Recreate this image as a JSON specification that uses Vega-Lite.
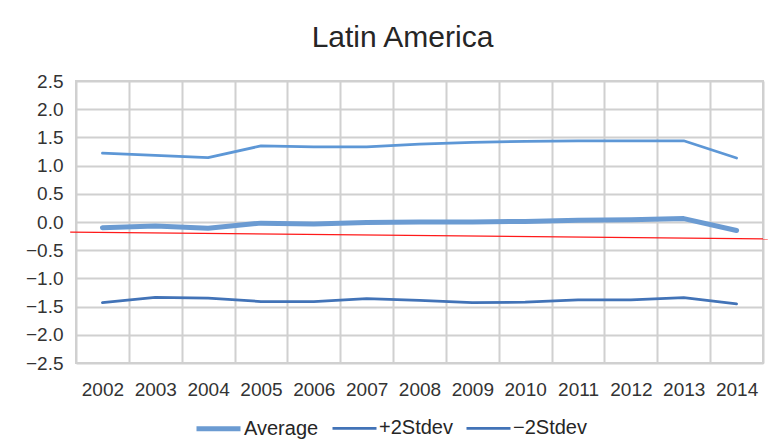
{
  "$schema": "https://vega.github.io/schema/vega-lite/v6.json",
  "width": 687,
  "height": 282,
  "autosize": {"type": "none"},
  "padding": {"left": 76, "top": 81, "right": 5, "bottom": 85},
  "background": "white",
  "config": {
    "font": "Liberation Sans",
    "view": {"stroke": "#d0d0d0", "strokeWidth": 2},
    "axisY": {
      "title": null,
      "grid": true,
      "gridColor": "#d0d0d0",
      "gridWidth": 2,
      "ticks": false,
      "domain": false,
      "labelFontSize": 19,
      "labelColor": "#333333",
      "labelPadding": 13,
      "labelOverlap": false,
      "labelFlush": false
    }
  },
  "title": {
    "text": "Latin America",
    "fontSize": 30,
    "fontWeight": "normal",
    "color": "#262626",
    "font": "Liberation Sans",
    "anchor": "middle",
    "dx": -17,
    "offset": 19
  },
  "datasets": {
    "series": [
      {"year": "2002", "series": "Average", "value": -0.10},
      {"year": "2003", "series": "Average", "value": -0.07},
      {"year": "2004", "series": "Average", "value": -0.11},
      {"year": "2005", "series": "Average", "value": -0.02},
      {"year": "2006", "series": "Average", "value": -0.035},
      {"year": "2007", "series": "Average", "value": -0.01},
      {"year": "2008", "series": "Average", "value": 0.0},
      {"year": "2009", "series": "Average", "value": 0.0},
      {"year": "2010", "series": "Average", "value": 0.01},
      {"year": "2011", "series": "Average", "value": 0.03},
      {"year": "2012", "series": "Average", "value": 0.04},
      {"year": "2013", "series": "Average", "value": 0.06},
      {"year": "2014", "series": "Average", "value": -0.15},
      {"year": "2002", "series": "+2Stdev", "value": 1.22},
      {"year": "2003", "series": "+2Stdev", "value": 1.18},
      {"year": "2004", "series": "+2Stdev", "value": 1.14},
      {"year": "2005", "series": "+2Stdev", "value": 1.35},
      {"year": "2006", "series": "+2Stdev", "value": 1.33},
      {"year": "2007", "series": "+2Stdev", "value": 1.33},
      {"year": "2008", "series": "+2Stdev", "value": 1.38},
      {"year": "2009", "series": "+2Stdev", "value": 1.41},
      {"year": "2010", "series": "+2Stdev", "value": 1.43},
      {"year": "2011", "series": "+2Stdev", "value": 1.44},
      {"year": "2012", "series": "+2Stdev", "value": 1.44},
      {"year": "2013", "series": "+2Stdev", "value": 1.44},
      {"year": "2014", "series": "+2Stdev", "value": 1.135},
      {"year": "2002", "series": "−2Stdev", "value": -1.43},
      {"year": "2003", "series": "−2Stdev", "value": -1.335},
      {"year": "2004", "series": "−2Stdev", "value": -1.35},
      {"year": "2005", "series": "−2Stdev", "value": -1.41},
      {"year": "2006", "series": "−2Stdev", "value": -1.41},
      {"year": "2007", "series": "−2Stdev", "value": -1.36},
      {"year": "2008", "series": "−2Stdev", "value": -1.39},
      {"year": "2009", "series": "−2Stdev", "value": -1.43},
      {"year": "2010", "series": "−2Stdev", "value": -1.42},
      {"year": "2011", "series": "−2Stdev", "value": -1.38},
      {"year": "2012", "series": "−2Stdev", "value": -1.38},
      {"year": "2013", "series": "−2Stdev", "value": -1.34},
      {"year": "2014", "series": "−2Stdev", "value": -1.45}
    ],
    "trend": [
      {"t": -0.11, "v": -0.18},
      {"t": 13.09, "v": -0.30}
    ]
  },
  "layer": [
    {
      "data": {"name": "series"},
      "mark": {"type": "line", "strokeCap": "round", "strokeJoin": "round"},
      "encoding": {
        "x": {
          "field": "year",
          "type": "ordinal",
          "scale": {"paddingInner": 0, "paddingOuter": 0},
          "axis": {
            "title": null,
            "labelAngle": 0,
            "tickBand": "extent",
            "grid": true,
            "gridColor": "#d0d0d0",
            "gridWidth": 2,
            "ticks": false,
            "domain": false,
            "labelFontSize": 19,
            "labelColor": "#333333",
            "labelPadding": 17,
            "labelOverlap": false
          }
        },
        "y": {
          "field": "value",
          "type": "quantitative",
          "scale": {"domain": [-2.5, 2.5], "nice": false, "zero": false},
          "axis": {
            "values": [-2.5, -2, -1.5, -1, -0.5, 0, 0.5, 1, 1.5, 2, 2.5],
            "format": ".1f",
            "labelOverlap": false
          }
        },
        "color": {
          "condition": {"test": "datum.series === '+2Stdev'", "value": "#5d97d6"},
          "field": "series",
          "type": "nominal",
          "sort": ["Average", "+2Stdev", "−2Stdev"],
          "scale": {"domain": ["Average", "+2Stdev", "−2Stdev"], "range": ["#6b9bd2", "#4273b7", "#4273b7"]},
          "legend": {
            "title": null,
            "orient": "none",
            "direction": "horizontal",
            "legendX": 118,
            "legendY": 323,
            "symbolType": "stroke",
            "symbolSize": 1936,
            "labelFontSize": 20,
            "labelColor": "#262626",
            "labelOffset": 1,
            "columnPadding": 8
          }
        },
        "strokeWidth": {
          "field": "series",
          "type": "nominal",
          "sort": ["Average", "+2Stdev", "−2Stdev"],
          "scale": {"type": "ordinal", "domain": ["Average", "+2Stdev", "−2Stdev"], "range": [5, 2.75, 2.75]},
          "legend": {
            "title": null,
            "orient": "none",
            "direction": "horizontal",
            "legendX": 118,
            "legendY": 323,
            "symbolType": "stroke",
            "symbolSize": 1936,
            "labelFontSize": 20,
            "labelColor": "#262626",
            "labelOffset": 1,
            "columnPadding": 8
          }
        }
      }
    },
    {
      "data": {"name": "trend"},
      "mark": {"type": "line", "color": "#ff1a1a", "strokeWidth": 1.2, "clip": false},
      "encoding": {
        "x": {"field": "t", "type": "quantitative", "scale": {"domain": [0, 13], "nice": false, "zero": false}, "axis": null},
        "y": {
          "field": "v",
          "type": "quantitative",
          "axis": {
            "values": [-2.5, -2, -1.5, -1, -0.5, 0, 0.5, 1, 1.5, 2, 2.5],
            "format": ".1f",
            "labelOverlap": false
          }
        }
      }
    }
  ],
  "resolve": {"scale": {"x": "independent"}}
}
